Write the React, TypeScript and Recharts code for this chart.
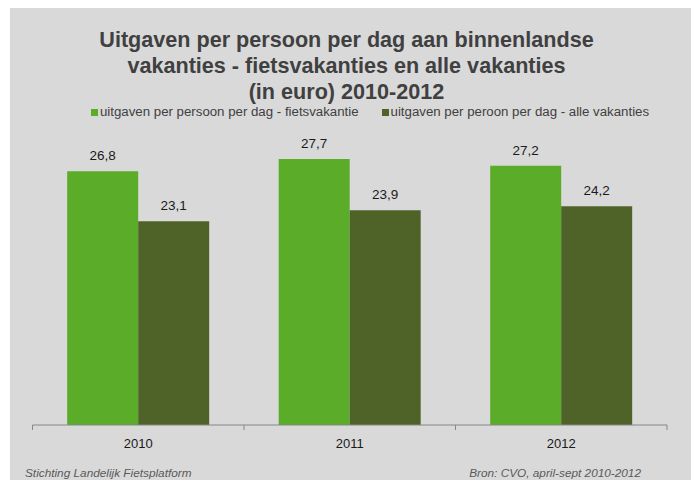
import React from 'react';
import { BarChart, Bar, XAxis, YAxis, Legend, LabelList } from 'recharts';

const years = ['2010', '2011', '2012'];
const fietsvakantie = [26.8, 27.7, 27.2];
const alleVakanties = [23.1, 23.9, 24.2];
const seriesKeys = ['fiets', 'alle'];
const seriesNames = [
  'uitgaven per persoon per dag - fietsvakantie',
  'uitgaven per peroon per dag - alle vakanties',
];
const titleLines = [
  'Uitgaven per persoon per dag aan binnenlandse',
  'vakanties - fietsvakanties en alle vakanties',
  '(in euro) 2010-2012',
];
const footerLeft = 'Stichting Landelijk Fietsplatform';
const footerRight = 'Bron: CVO, april-sept 2010-2012';
const yDomain: [number, number] = [8, 30];

const data = years.map((y, i) => ({ year: y, fiets: fietsvakantie[i], alle: alleVakanties[i] }));

const W = 681;
const H = 472;
const MARGIN = { top: 120, right: 24, bottom: 25, left: 22.5 };
const PLOT_W = W - MARGIN.left - MARGIN.right;
const FONT = '"Liberation Sans", Arial, Helvetica, sans-serif';
const GREEN = '#5aac29';
const DARK = '#4f6228';
const AXIS = '#868686';

const fmt = (v: any) => Number(v).toFixed(1).replace('.', ',');

const YearTick = (props: any) => {
  const { x, y, payload, index, visibleTicksCount } = props;
  const count = visibleTicksCount || years.length;
  const bw = PLOT_W / count;
  return (
    <g>
      <line x1={x - bw / 2} x2={x - bw / 2} y1={y} y2={y + 5} stroke={AXIS} strokeWidth={1} />
      {index === count - 1 && (
        <line x1={x + bw / 2} x2={x + bw / 2} y1={y} y2={y + 5} stroke={AXIS} strokeWidth={1} />
      )}
      <text x={x} y={y + 23} textAnchor="middle" fontSize={13} fill="#1a1a1a" fontFamily={FONT}>
        {payload.value}
      </text>
    </g>
  );
};

const LegendContent = (props: any) => {
  const items = [...(props.payload || [])].sort(
    (a: any, b: any) => seriesKeys.indexOf(a.dataKey) - seriesKeys.indexOf(b.dataKey)
  );
  return (
    <div style={{ whiteSpace: 'nowrap', fontFamily: FONT, fontSize: 13.25, lineHeight: '16px', color: '#404040', textAlign: 'left' }}>
      {items.map((p: any, i: number) => (
        <span key={i} style={{ display: 'inline-block', marginRight: i === 0 ? 23 : 0 }}>
          <span style={{ display: 'inline-block', width: 7, height: 7, background: p.color, marginRight: 2, verticalAlign: 'baseline' }} />
          {p.value}
        </span>
      ))}
    </div>
  );
};

export default function App() {
  return (
    <div
      style={{
        position: 'fixed',
        left: 10,
        top: 8,
        width: W,
        height: H,
        background: '#d9d9d9',
        fontFamily: FONT,
        overflow: 'hidden',
      }}
    >
      <div
        style={{
          position: 'absolute',
          left: 0,
          top: 18.5,
          width: W - 8,
          textAlign: 'center',
          fontWeight: 'bold',
          fontSize: 21.6,
          lineHeight: '26px',
          color: '#404040',
        }}
      >
        {titleLines.map((t, i) => (
          <div key={i}>{t}</div>
        ))}
      </div>
      <BarChart
        width={W}
        height={H}
        data={data}
        margin={MARGIN}
        barCategoryGap="16.4%"
        barGap={0}
        style={{ position: 'absolute', left: 0, top: 0 }}
      >
        <XAxis
          dataKey="year"
          height={30}
          axisLine={{ stroke: AXIS, strokeWidth: 1 }}
          tickLine={false}
          tickSize={0}
          tickMargin={0}
          tick={<YearTick />}
          interval={0}
        />
        <YAxis hide domain={yDomain} allowDataOverflow />
        <Legend
          layout="horizontal"
          verticalAlign="middle"
          align="center"
          wrapperStyle={{ top: 96, left: 81, width: 600, height: 16 }}
          content={<LegendContent />}
        />
        <Bar dataKey="fiets" name={seriesNames[0]} fill={GREEN} isAnimationActive={false}>
          <LabelList dataKey="fiets" position="top" offset={11} formatter={fmt} fontSize={13.5} fill="#1a1a1a" fontFamily={FONT} />
        </Bar>
        <Bar dataKey="alle" name={seriesNames[1]} fill={DARK} isAnimationActive={false}>
          <LabelList dataKey="alle" position="top" offset={11} formatter={fmt} fontSize={13.5} fill="#1a1a1a" fontFamily={FONT} />
        </Bar>
      </BarChart>
      <div
        style={{
          position: 'absolute',
          left: 15,
          top: 457.5,
          fontStyle: 'italic',
          fontSize: 11.8,
          color: '#595959',
          whiteSpace: 'nowrap',
        }}
      >
        {footerLeft}
      </div>
      <div
        style={{
          position: 'absolute',
          right: 50,
          top: 457.5,
          fontStyle: 'italic',
          fontSize: 11.8,
          color: '#595959',
          whiteSpace: 'nowrap',
        }}
      >
        {footerRight}
      </div>
    </div>
  );
}
